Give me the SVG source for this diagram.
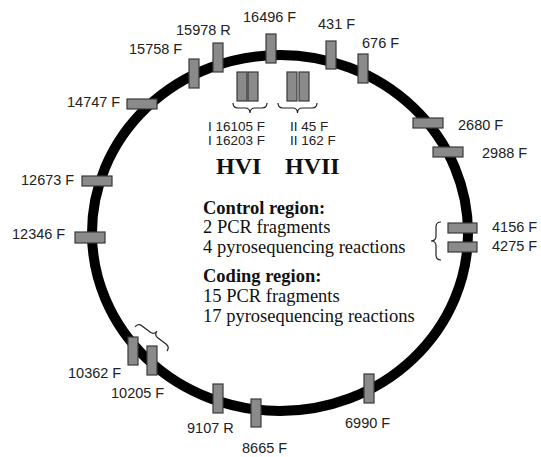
<svg xmlns="http://www.w3.org/2000/svg" width="541" height="457" viewBox="0 0 541 457">
<style>
.ring{fill:none;stroke:#000;stroke-width:10}
.mk{fill:#8a8a8a;stroke:#3a3a3a;stroke-width:1.2}
.lb{font-family:"Liberation Sans",Arial,sans-serif;font-size:14.5px;fill:#222}
.sm{font-size:13.5px}
.tx{font-family:"Liberation Serif","Times New Roman",serif;font-size:18.5px;fill:#111}
.b{font-weight:bold}
.hv{font-family:"Liberation Serif","Times New Roman",serif;font-size:24px;font-weight:bold;fill:#111}
.br{fill:none;stroke:#222;stroke-width:1.2}
</style>
<rect width="541" height="457" fill="#fff"/>
<g id="connectors">
<ellipse class="ring" cx="280" cy="233" rx="188" ry="178"/>
<path class="br" d="M233,103 Q233,108 238,108 L245,108 Q250,108 250,113 Q250,108 255,108 L262,108 Q267,108 267,103"/>
<path class="br" d="M278,103 Q278,108 283,108 L292.5,108 Q297.5,108 297.5,113 Q297.5,108 302.5,108 L312,108 Q317,108 317,103"/>
<path class="br" d="M441,222 Q436,222 436,227 L436,236 Q436,241 431,241 Q436,241 436,246 L436,255 Q436,260 441,260"/>
<path class="br" transform="translate(154,335) rotate(37)" d="M-20,5 Q-20,0 -15,0 L-5,0 Q0,0 0,-5 Q0,0 5,0 L15,0 Q20,0 20,5"/>
</g>
<g id="m15758"><rect class="mk" x="189" y="59" width="10" height="29"/><text class="lb" x="129" y="54">15758 F</text></g>
<g id="m15978"><rect class="mk" x="213" y="43" width="10" height="29"/><text class="lb" x="176" y="35">15978 R</text></g>
<g id="m16496"><rect class="mk" x="266" y="34" width="10" height="29"/><text class="lb" x="243" y="22">16496 F</text></g>
<g id="m431"><rect class="mk" x="326" y="41" width="10" height="28"/><text class="lb" x="318" y="29">431 F</text></g>
<g id="m676"><rect class="mk" x="358" y="54" width="10" height="29"/><text class="lb" x="362" y="48">676 F</text></g>
<g id="m2680"><rect class="mk" x="413" y="118" width="30" height="10"/><text class="lb" x="458" y="130">2680 F</text></g>
<g id="m2988"><rect class="mk" x="433" y="147" width="30" height="10"/><text class="lb" x="482" y="158">2988 F</text></g>
<g id="m4156"><rect class="mk" x="448" y="223" width="29" height="10"/><text class="lb" x="492" y="232">4156 F</text></g>
<g id="m4275"><rect class="mk" x="448" y="242" width="29" height="10"/><text class="lb" x="492" y="251">4275 F</text></g>
<g id="m6990"><rect class="mk" x="364" y="374" width="10" height="29"/><text class="lb" x="345" y="428">6990 F</text></g>
<g id="m8665"><rect class="mk" x="251" y="399" width="10" height="28"/><text class="lb" x="242" y="453">8665 F</text></g>
<g id="m9107"><rect class="mk" x="213" y="384" width="10" height="29"/><text class="lb" x="187" y="433">9107 R</text></g>
<g id="m10205"><rect class="mk" x="147" y="346" width="10" height="29"/><text class="lb" x="111" y="398">10205 F</text></g>
<g id="m10362"><rect class="mk" x="128" y="337" width="10" height="28"/><text class="lb" x="68" y="378">10362 F</text></g>
<g id="m12346"><rect class="mk" x="75" y="232" width="30" height="11"/><text class="lb" x="12" y="239">12346 F</text></g>
<g id="m12673"><rect class="mk" x="82" y="176" width="30" height="10"/><text class="lb" x="21" y="185">12673 F</text></g>
<g id="m14747"><rect class="mk" x="127" y="99" width="30" height="10"/><text class="lb" x="67" y="107">14747 F</text></g>
<g id="hvi"><rect class="mk" x="237" y="72" width="10" height="29"/><rect class="mk" x="248" y="72" width="10" height="29"/>
<text class="lb sm" x="208" y="131">I 16105 F</text><text class="lb sm" x="208" y="145">I 16203 F</text>
<text class="hv" x="216" y="174">HVI</text></g>
<g id="hvii"><rect class="mk" x="287" y="72" width="10" height="29"/><rect class="mk" x="299" y="72" width="10" height="29"/>
<text class="lb sm" x="290" y="131">II 45 F</text><text class="lb sm" x="290" y="145">II 162 F</text>
<text class="hv" x="285" y="174">HVII</text></g>
<g id="legend">
<text class="tx b" x="203" y="214">Control region:</text>
<text class="tx" x="203" y="233">2 PCR fragments</text>
<text class="tx" x="203" y="253">4 pyrosequencing reactions</text>
<text class="tx b" x="203" y="282">Coding region:</text>
<text class="tx" x="203" y="302">15 PCR fragments</text>
<text class="tx" x="203" y="322">17 pyrosequencing reactions</text>
</g>
</svg>
